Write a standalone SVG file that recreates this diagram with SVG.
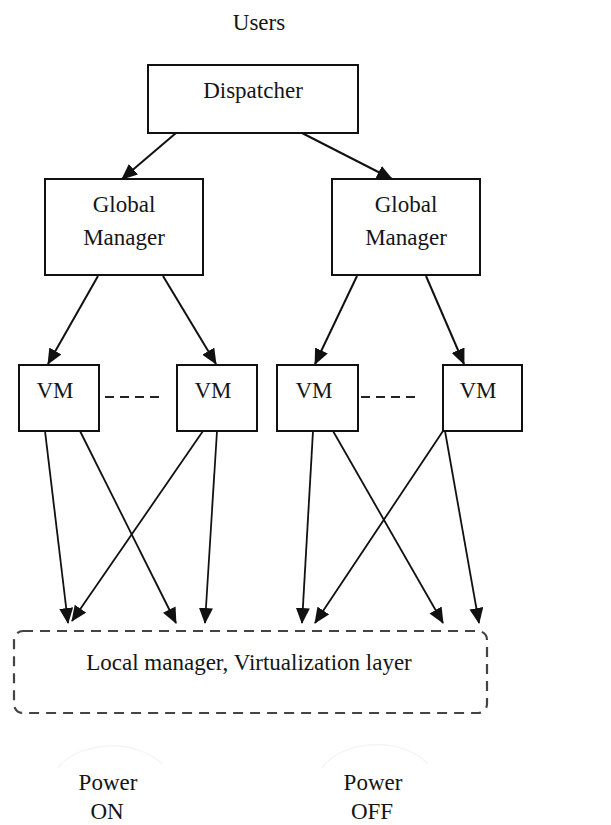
<svg xmlns="http://www.w3.org/2000/svg" width="611" height="825" viewBox="0 0 611 825">
  <style>
    .box { fill: #fff; stroke: #111; stroke-width: 2; }
    .edge { stroke: #111; stroke-width: 2; fill: none; }
    .edge-thin { stroke: #111; stroke-width: 1.8; fill: none; }
    .ellipsis { stroke: #222; stroke-width: 2; stroke-dasharray: 9 6; fill: none; }
    .layer { fill: none; stroke: #444; stroke-width: 2.2; stroke-dasharray: 10 7; }
    .halo { fill: none; stroke: #f5f5f5; stroke-width: 1.5; }
  </style>
  <defs>
    <marker id="arrow" markerUnits="userSpaceOnUse" viewBox="0 0 16 14" markerWidth="16" markerHeight="14" refX="15" refY="7" orient="auto">
      <path d="M0,0 L16,7 L0,14 z" fill="#111"/>
    </marker>
  </defs>

  <rect width="611" height="825" fill="#fff"/>

  <g font-family="Liberation Serif, Times New Roman, serif" font-size="23" fill="#151515" text-anchor="middle">
    <g id="users">
      <text x="259" y="30">Users</text>
    </g>

    <g id="dispatcher">
      <rect class="box" x="148" y="65" width="210" height="68"/>
      <text x="253" y="98">Dispatcher</text>
    </g>

    <g id="global-manager-1">
      <rect class="box" x="45" y="179" width="158" height="96"/>
      <text x="124" y="212">Global</text>
      <text x="124" y="245">Manager</text>
    </g>

    <g id="global-manager-2">
      <rect class="box" x="332" y="179" width="148" height="96"/>
      <text x="406" y="212">Global</text>
      <text x="406" y="245">Manager</text>
    </g>

    <g id="vm-1">
      <rect class="box" x="19" y="365" width="80" height="66"/>
      <text x="55" y="398">VM</text>
    </g>
    <g id="vm-2">
      <rect class="box" x="177" y="365" width="80" height="66"/>
      <text x="213" y="398">VM</text>
    </g>
    <g id="vm-3">
      <rect class="box" x="277" y="365" width="81" height="66"/>
      <text x="314" y="398">VM</text>
    </g>
    <g id="vm-4">
      <rect class="box" x="443" y="365" width="79" height="66"/>
      <text x="478" y="398">VM</text>
    </g>

    <g id="local-manager">
      <rect class="layer" x="14" y="631" width="473" height="82" rx="9" ry="9"/>
      <text x="249" y="670">Local manager, Virtualization layer</text>
    </g>

    <g id="power-on">
      <path class="halo" d="M58,768 A60,40 0 0 1 162,764"/>
      <text x="108" y="790">Power</text>
      <text x="107" y="819">ON</text>
    </g>
    <g id="power-off">
      <path class="halo" d="M322,768 A60,40 0 0 1 428,764"/>
      <text x="373" y="790">Power</text>
      <text x="372" y="819">OFF</text>
    </g>
  </g>

  <g id="connectors">
    <!-- dispatcher to global managers -->
    <line class="edge" x1="176" y1="133" x2="122" y2="179" marker-end="url(#arrow)"/>
    <line class="edge" x1="302" y1="133" x2="392" y2="179" marker-end="url(#arrow)"/>
    <!-- global managers to VMs -->
    <line class="edge" x1="98" y1="276" x2="48" y2="364" marker-end="url(#arrow)"/>
    <line class="edge" x1="163" y1="276" x2="216" y2="364" marker-end="url(#arrow)"/>
    <line class="edge" x1="357" y1="276" x2="315" y2="364" marker-end="url(#arrow)"/>
    <line class="edge" x1="426" y1="276" x2="464" y2="364" marker-end="url(#arrow)"/>
    <!-- VMs to local manager layer -->
    <line class="edge-thin" x1="45" y1="431" x2="68" y2="623" marker-end="url(#arrow)"/>
    <line class="edge-thin" x1="80" y1="431" x2="176" y2="623" marker-end="url(#arrow)"/>
    <line class="edge-thin" x1="203" y1="431" x2="72" y2="621" marker-end="url(#arrow)"/>
    <line class="edge-thin" x1="217" y1="431" x2="205" y2="623" marker-end="url(#arrow)"/>
    <line class="edge-thin" x1="313" y1="431" x2="302" y2="623" marker-end="url(#arrow)"/>
    <line class="edge-thin" x1="333" y1="431" x2="443" y2="623" marker-end="url(#arrow)"/>
    <line class="edge-thin" x1="443" y1="431" x2="315" y2="623" marker-end="url(#arrow)"/>
    <line class="edge-thin" x1="445" y1="431" x2="479" y2="623" marker-end="url(#arrow)"/>
    <!-- ellipses between VMs -->
    <line class="ellipsis" x1="105" y1="397" x2="164" y2="397"/>
    <line class="ellipsis" x1="361" y1="397" x2="419" y2="397"/>
  </g>
</svg>
